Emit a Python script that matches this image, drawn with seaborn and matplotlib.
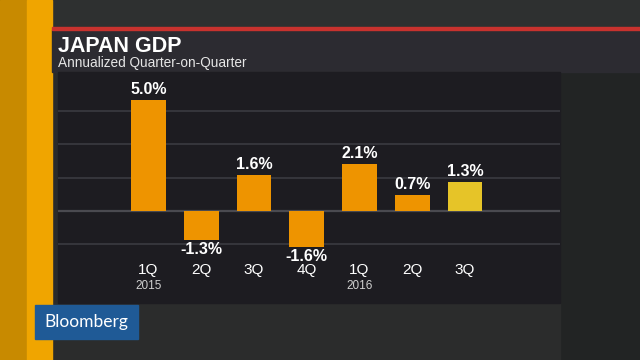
import pandas as pd
import matplotlib.pyplot as plt
import seaborn as sns
from matplotlib.patches import Rectangle

# Chart data
quarters = ["1Q", "2Q", "3Q", "4Q", "1Q", "2Q", "3Q"]
years = ["2015", "", "", "", "2016", "", ""]
growth = [5.0, -1.3, 1.6, -1.6, 2.1, 0.7, 1.3]
labels = ["5.0%", "-1.3%", "1.6%", "-1.6%", "2.1%", "0.7%", "1.3%"]

df = pd.DataFrame({"pos": range(len(growth)), "growth": growth})
bar_colors = ["#ee9400"] * 6 + ["#e6c428"]

sns.set_style("dark")
plt.rcParams["font.family"] = ["Liberation Sans", "DejaVu Sans"]

W, H = 640, 360
fig = plt.figure(figsize=(6.4, 3.6), dpi=100)
fig.patch.set_facecolor("#2a2b2b")


def px_rect(x0, y0, x1, y1, color, z=0):
    # rectangle in pixel coords (y from top)
    fig.patches.append(Rectangle((x0 / W, 1 - y1 / H), (x1 - x0) / W, (y1 - y0) / H,
                                 transform=fig.transFigure, color=color, zorder=z))


# backdrop pieces
px_rect(0, 0, 640, 27, "#2e3030")
px_rect(560, 72, 640, 360, "#222424")
px_rect(52, 303, 560, 360, "#2b2c2c")
px_rect(0, 0, 27, 360, "#c88a00")
px_rect(27, 0, 52, 360, "#f0a500")
px_rect(52, 27, 640, 30, "#c8322e", z=2)
px_rect(52, 30, 640, 72, "#2c2b31", z=1)
px_rect(58, 72, 560, 303, "#1d1c21", z=1)

# axes covering chart panel
ax = fig.add_axes([58 / W, 1 - 303 / H, (560 - 58) / W, (303 - 72) / H])
ax.set_facecolor("none")
ax.set_zorder(3)

sns.barplot(data=df, x="pos", y="growth", hue="pos", palette=bar_colors,
            legend=False, width=0.66, native_scale=True, ax=ax, saturation=1,
            linewidth=0)

step = 52.75
zero_px = 211
scale = 22.2
ax.set_xlim(-(148.5 - 58) / step, 6 + (560 - 465) / step)
ax.set_ylim(-(303 - zero_px) / scale, (zero_px - 72) / scale)

for gy in [-1.5, 1.5, 3.0, 4.5]:
    ax.axhline(gy, color="#3b3b41", lw=1.2, zorder=0)
ax.axhline(0, color="#4a4a50", lw=1.6, zorder=0)

for i, (v, lab) in enumerate(zip(growth, labels)):
    if v >= 0:
        ax.text(i, v + 0.15, lab, ha="center", va="bottom", color="white",
                fontsize=11.5, fontweight="bold")
    else:
        ax.text(i, v - 0.1, lab, ha="center", va="top", color="white",
                fontsize=11.5, fontweight="bold")
    ax.text(i, -2.65, quarters[i], ha="center", va="center", color="white", fontsize=11)
    if years[i]:
        ax.text(i, -3.4, years[i], ha="center", va="center", color="#d0d0d0", fontsize=8.5)

ax.set_xticks([])
ax.set_yticks([])
ax.set_xlabel("")
ax.set_ylabel("")
for s in ax.spines.values():
    s.set_visible(False)

# titles
fig.text(58 / W, 1 - 46 / H, "JAPAN GDP", color="white", fontsize=15.5,
         fontweight="bold", va="center", ha="left", zorder=5)
fig.text(58 / W, 1 - 63 / H, "Annualized Quarter-on-Quarter", color="#e6e6e6",
         fontsize=9.8, va="center", ha="left", zorder=5)

# logo
px_rect(35, 305, 138, 339, "#1f5a96", z=4)
fig.text(86 / W, 1 - 322 / H, "Bloomberg", color="white", fontsize=12.5,
         va="center", ha="center", zorder=5, family=["Lato", "DejaVu Sans"])

fig.savefig("out.png", dpi=100, facecolor=fig.get_facecolor())
